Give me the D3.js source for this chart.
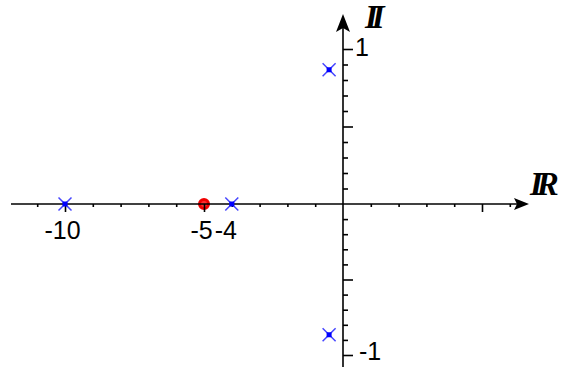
<!DOCTYPE html>
<html>
<head>
<meta charset="utf-8">
<script src="https://cdn.jsdelivr.net/npm/d3@7"></script>
<style>
  html, body { margin: 0; padding: 0; background: #fff; }
  svg { display: block; }
  .lbl { font-family: "Liberation Sans", Arial, sans-serif; font-size: 25px; fill: #000; }
  .axname { font-family: "Liberation Serif", "DejaVu Serif", serif; font-style: italic; font-weight: bold; font-size: 33px; fill: #000; }
</style>
</head>
<body>
<script>
// Poles (×) and zeros (○) in the complex plane
const poleRe = [-10, -4, -0.5, -0.5];
const poleIm = [0, 0, 0.866, -0.866];
const zeroRe = [-5];
const zeroIm = [0];

// Tick positions and labels
const xMinorTicks = d3.range(-11, 7).filter(v => v !== 0 && v % 5 !== 0);
const xMajorTicks = [-10, -5, 5];
const xTickLabels = [-10, -5, -4];
const yMinorTicks = d3.range(-10, 11).filter(i => i !== 0 && i % 5 !== 0).map(i => i / 10);
const yMajorTicks = [-1, -0.5, 0.5, 1];
const yTickLabels = [1, -1];

const W = 564, H = 367;
const svg = d3.select("body").append("svg").attr("width", W).attr("height", H);

const x = d3.scaleLinear().domain([-10, 0]).range([65, 343]);
const y = d3.scaleLinear().domain([-1, 0, 1]).range([355, 204, 49]);

const x0 = x(0), y0 = y(0);

// zeros drawn first so the axis passes over them
svg.selectAll("circle.zero")
  .data(zeroRe.map((r, i) => ({ re: r, im: zeroIm[i] })))
  .join("circle")
  .attr("class", "zero")
  .attr("cx", d => x(d.re))
  .attr("cy", d => y(d.im))
  .attr("r", 4.5)
  .attr("fill", "#ff3030")
  .attr("stroke", "#f00000")
  .attr("stroke-width", 3);

// horizontal axis
const gx = svg.append("g");
gx.append("line")
  .attr("x1", 11).attr("x2", 518).attr("y1", y0).attr("y2", y0)
  .attr("stroke", "#000").attr("stroke-width", 1.6);
gx.append("path")
  .attr("d", `M529,${y0} L514,${y0 - 6} L517,${y0} L514,${y0 + 6} Z`)
  .attr("fill", "#000");

const axMinorX = d3.axisBottom(x).tickValues(xMinorTicks).tickSize(3).tickFormat("");
const axMajorX = d3.axisBottom(x).tickValues(xMajorTicks).tickSize(8).tickFormat("");
[axMinorX, axMajorX].forEach(a => {
  const g = svg.append("g").attr("transform", `translate(0,${y0})`).call(a);
  g.select(".domain").remove();
  g.selectAll(".tick line").attr("stroke", "#000").attr("stroke-width", 1.6);
});

// labels under the real axis; the -4 label sits snug against -5
const xLabelShift = { "-10": -2.5, "-5": -2.5, "-4": -6 };
svg.selectAll("text.xl")
  .data(xTickLabels)
  .join("text")
  .attr("class", "lbl xl")
  .attr("x", d => x(d) + xLabelShift[d])
  .attr("y", 239)
  .attr("text-anchor", "middle")
  .text(d => d);

// vertical axis
const gy = svg.append("g");
gy.append("line")
  .attr("x1", x0).attr("x2", x0).attr("y1", 28).attr("y2", 367)
  .attr("stroke", "#000").attr("stroke-width", 1.6);
gy.append("path")
  .attr("d", `M${x0},14 L${x0 - 7},32 L${x0},28 L${x0 + 7},32 Z`)
  .attr("fill", "#000");

const axMinorY = d3.axisRight(y).tickValues(yMinorTicks).tickSize(5).tickFormat("");
const axMajorY = d3.axisRight(y).tickValues(yMajorTicks).tickSize(10).tickFormat("");
[axMinorY, axMajorY].forEach(a => {
  const g = svg.append("g").attr("transform", `translate(${x0},0)`).call(a);
  g.select(".domain").remove();
  g.selectAll(".tick line").attr("stroke", "#000").attr("stroke-width", 1.6);
});

svg.selectAll("text.yl")
  .data(yTickLabels)
  .join("text")
  .attr("class", "lbl yl")
  .attr("x", d => x0 + (d > 0 ? 12 : 16))
  .attr("y", d => y(d) + (d > 0 ? 7 : 5))
  .text(d => d);

// axis names
svg.append("text").attr("class", "axname")
  .attr("x", 530).attr("y", 195)
  .attr("letter-spacing", "-6")
  .text("IR");
svg.append("text").attr("class", "axname")
  .attr("x", 365).attr("y", 28)
  .attr("font-size", 31)
  .attr("letter-spacing", "-6")
  .text("II");

// poles
const crosses = svg.selectAll("g.pole")
  .data(poleRe.map((r, i) => ({ re: r, im: poleIm[i] })))
  .join("g")
  .attr("class", "pole")
  .attr("transform", d => `translate(${x(d.re)},${y(d.im)})`);
crosses.append("path")
  .attr("d", "M-6.5,-6.5L6.5,6.5M-6.5,6.5L6.5,-6.5")
  .attr("stroke", "#4646ff")
  .attr("stroke-width", 1.5);
crosses.append("rect")
  .attr("x", -2.5).attr("y", -2.5).attr("width", 5).attr("height", 5)
  .attr("fill", "#0000ff");
</script>
</body>
</html>
